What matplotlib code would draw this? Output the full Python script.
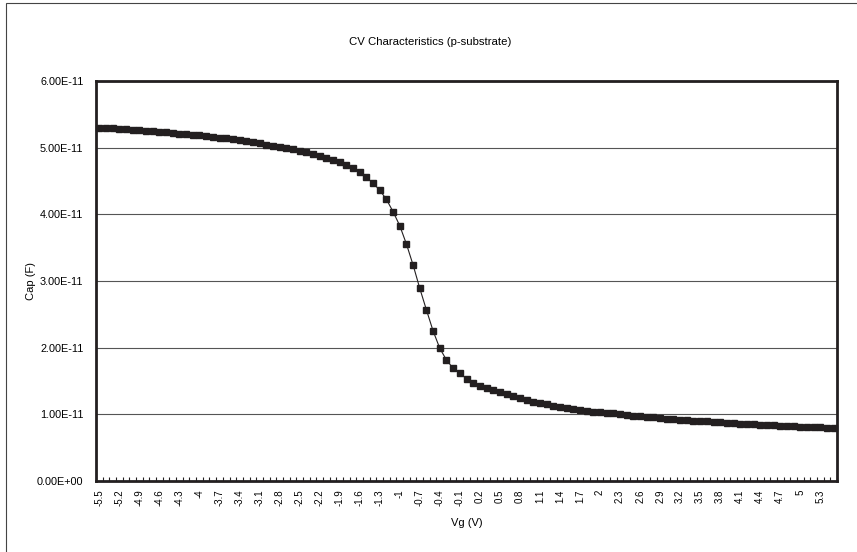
import numpy as np
import matplotlib
matplotlib.use('Agg')
import matplotlib.pyplot as plt
from matplotlib.patches import Rectangle
from matplotlib.ticker import FuncFormatter

plt.rcParams['font.family'] = ['Liberation Sans', 'DejaVu Sans']

# gate voltage categories, -5.5 .. 5.5 V in 0.1 V steps
vg = np.round(np.arange(-5.5, 5.55, 0.1), 1)

# capacitance, in units of 1e-11 F
cap_e11 = [
    5.300, 5.295, 5.288, 5.281, 5.274, 5.267, 5.260, 5.252, 5.245, 5.238,
    5.230, 5.221, 5.212, 5.203, 5.194, 5.184, 5.174, 5.163, 5.152, 5.140,
    5.126, 5.112, 5.098, 5.082, 5.065, 5.046, 5.028, 5.013, 4.995, 4.978,
    4.956, 4.932, 4.906, 4.880, 4.847, 4.815, 4.780, 4.740, 4.690, 4.630,
    4.555, 4.468, 4.362, 4.225, 4.040, 3.830, 3.555, 3.240, 2.890, 2.565,
    2.250, 1.990, 1.815, 1.690, 1.615, 1.535, 1.475, 1.425, 1.400, 1.370,
    1.333, 1.300, 1.270, 1.238, 1.215, 1.187, 1.165, 1.148, 1.125, 1.106,
    1.090, 1.078, 1.064, 1.050, 1.040, 1.030, 1.024, 1.014, 1.002, 0.992,
    0.982, 0.975, 0.965, 0.955, 0.945, 0.935, 0.928, 0.921, 0.914, 0.907,
    0.900, 0.893, 0.886, 0.879, 0.872, 0.865, 0.860, 0.855, 0.850, 0.845,
    0.840, 0.835, 0.830, 0.825, 0.820, 0.815, 0.811, 0.807, 0.803, 0.799,
    0.792,
]
cap = np.array(cap_e11) * 1e-11

y_ticks = [0, 1e-11, 2e-11, 3e-11, 4e-11, 5e-11, 6e-11]
label_step = 3

ink = '#231f20'


def plot():
    fig = plt.figure(figsize=(8.57, 5.52), dpi=100)
    ax = fig.add_axes([96 / 857, 71 / 552, 741 / 857, 400 / 552])

    idx = np.arange(len(vg))
    ax.plot(idx, cap, color=ink, linewidth=0.8, marker='s',
            markersize=3.8, markerfacecolor=ink, markeredgecolor=ink,
            zorder=3, clip_on=False)

    ax.set_xlim(-0.5, len(vg) - 0.5)
    ax.set_ylim(0, 6e-11)

    # category labels every third point, small tick marks between categories
    major = idx[::label_step]
    ax.set_xticks(major)
    ax.set_xticklabels(['%g' % v for v in vg[::label_step]], rotation=90,
                       fontsize=7)
    ax.set_xticks(np.arange(-0.5, len(vg), 1.0), minor=True)
    ax.tick_params(axis='x', which='major', length=0, pad=6)
    ax.tick_params(axis='x', which='minor', direction='in', length=3,
                   width=0.8, color=ink)

    ax.set_yticks(y_ticks)
    ax.yaxis.set_major_formatter(FuncFormatter(lambda v, p: '%.2E' % v))
    ax.tick_params(axis='y', length=0, pad=9, labelsize=7.8)

    ax.grid(True, axis='y', color='#555555', linewidth=0.8)
    ax.set_axisbelow(True)
    for s in ax.spines.values():
        s.set_linewidth(2.0)
        s.set_color(ink)

    ax.set_xlabel('Vg (V)', fontsize=8)
    ax.xaxis.set_label_coords(0.5, -37 / 400)
    ax.set_ylabel('Cap (F)', fontsize=8)
    ax.yaxis.set_label_coords(-60 / 741, 0.5)
    fig.text(430 / 857, 1 - 42 / 552, 'CV Characteristics (p-substrate)',
             ha='center', va='center', fontsize=8.2)

    # outer chart frame (only top and left edge show in the crop)
    fig.patches.append(Rectangle((6 / 857, -0.05), 1.1, 1.05 - 3 / 552,
                                 transform=fig.transFigure, fill=False,
                                 edgecolor='#444444', linewidth=0.8))

    fig.savefig('out.png', dpi=100)


if __name__ == '__main__':
    plot()
